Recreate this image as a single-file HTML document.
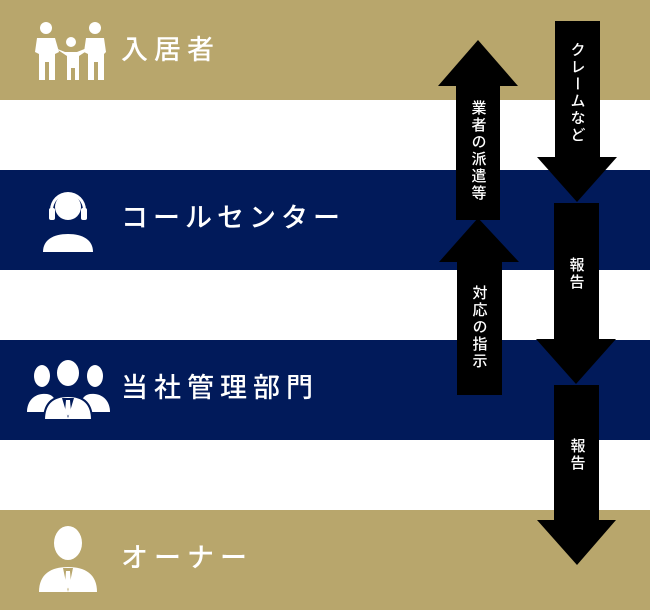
<!DOCTYPE html>
<html><head><meta charset="utf-8"><style>
body{margin:0;width:650px;height:610px;position:relative;overflow:hidden;background:#fff;font-family:"Liberation Sans","Noto Sans CJK JP",sans-serif}
.band{position:absolute;left:0;width:650px;height:100px}
.lbl{position:absolute;left:121px;color:#fff;font-size:27px;letter-spacing:6px;line-height:1;font-weight:500}
.v{position:absolute;writing-mode:vertical-rl;color:#fff;font-size:15px;letter-spacing:2px;transform:translateX(-50%);line-height:1;font-weight:500}
</style></head><body>
<div class="band" style="top:0;background:#b8a66c"></div>
<div class="band" style="top:170px;background:#011a5a"></div>
<div class="band" style="top:340px;background:#011a5a"></div>
<div class="band" style="top:510px;background:#b8a66c"></div>
<div class="lbl" style="top:37px">入居者</div>
<div class="lbl" style="top:205px;letter-spacing:5px">コールセンター</div>
<div class="lbl" style="top:375px">当社管理部門</div>
<div class="lbl" style="top:545px">オーナー</div>
<svg width="650" height="610" style="position:absolute;left:0;top:0">
<g fill="#fff">
<circle cx="46" cy="28" r="6"/><path d="M37 38h18l4 14-4 2v26h-6V62h-4v18h-6V54l-4-2z"/>
<circle cx="95" cy="28" r="6"/><path d="M86 38h18l2 14-2 2v26h-6V62h-4v18h-6V54l-4-2z"/>
<circle cx="71" cy="42" r="5"/><path d="M55 48l10 4h12l10-4-2 4-6 4v24h-4V68h-4v12h-4V56l-6-4z"/>
<circle cx="68" cy="207" r="13"/>
<path d="M50 210a18 18 0 0 1 36 0v6h-3v-6a15 15 0 0 0-30 0v6h-3z"/>
<rect x="49" y="208" width="6" height="12" rx="2"/><rect x="81" y="208" width="6" height="12" rx="2"/>
<path d="M43 252c0-12 10-18 25-18s25 6 25 18z"/>
<ellipse cx="42" cy="376" rx="8" ry="11"/><ellipse cx="95" cy="376" rx="8" ry="11"/>
<path d="M27 412c0-10 6-17 15-18s12 3 14 8v10z"/><path d="M110 412c0-10-6-17-15-18s-12 3-14 8v10z"/>
<ellipse cx="68" cy="373" rx="12" ry="14" stroke="#011a5a" stroke-width="2"/>
<path d="M44 420c0-16 8-24 24-24s24 8 24 24z" stroke="#011a5a" stroke-width="2"/>
<ellipse cx="68" cy="543" rx="14" ry="17"/>
<path d="M39 592c0-18 12-25 29-25s29 7 29 25z"/>
</g>
<path d="M63 568h10l-5 24z" fill="#b8a66c"/><path d="M66 571h4l1 14-3 4-3-4z" fill="#fff"/>
<path d="M62 398h12l-6 20z" fill="#011a5a"/><path d="M66 400h4l1 12-3 4-3-4z" fill="#fff"/>
<g fill="#000">
<polygon points="478,40 518,86 500,86 500,220 456,220 456,86 438,86"/>
<polygon points="478,218 519,262 502,262 502,395 457,395 457,262 439,262"/>
<polygon points="555,21 600,21 600,157 617,157 577,202 537,157 555,157"/>
<polygon points="554,203 599,203 599,339 616,339 576,384 536,339 554,339"/>
<polygon points="554,385 599,385 599,520 616,520 577,565 537,520 554,520"/>
</g>
</svg>
<div class="v" style="left:577px;top:42px">クレームなど</div>
<div class="v" style="left:478px;top:100px">業者の派遣等</div>
<div class="v" style="left:576px;top:257px">報告</div>
<div class="v" style="left:479px;top:285px">対応の指示</div>
<div class="v" style="left:577px;top:438px">報告</div>
</body></html>
